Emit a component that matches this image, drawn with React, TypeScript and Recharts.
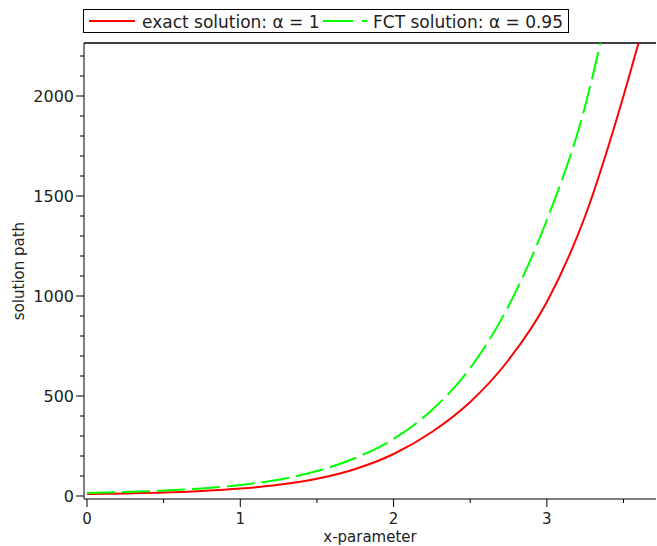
import React from 'react';
import { LineChart, Line, XAxis, YAxis, ReferenceLine, Label } from 'recharts';

// values
const exactX = [0, 0.25, 0.5, 0.75, 1, 1.25, 1.5, 1.75, 2, 2.25, 2.5, 2.75, 3, 3.25, 3.5, 3.6];
const exactY = [10, 13, 17, 25, 37, 56, 86, 135, 210, 320, 470, 680, 970, 1400, 2000, 2270];
const fctX = [0, 0.25, 0.5, 0.75, 1, 1.25, 1.5, 1.75, 2, 2.25, 2.5, 2.75, 3, 3.25, 3.35];
const fctY = [15, 20, 27, 38, 55, 81, 125, 190, 285, 430, 640, 950, 1380, 1950, 2265];

const xTicks = [0, 0.5, 1, 1.5, 2, 2.5, 3, 3.5];
const yTicks = Array.from({ length: 23 }, (_, i) => i * 100);

const exactData = exactX.map((x, i) => ({ x, y: exactY[i] }));
const fctData = fctX.map((x, i) => ({ x, y: fctY[i] }));

const FONT = '"DejaVu Sans", Verdana, sans-serif';

const YTick = (props: any) => {
  const { x, y, payload } = props;
  const major = payload.value % 500 === 0;
  return (
    <g>
      <line x1={x} x2={x - (major ? 8 : 4)} y1={y} y2={y} stroke="#000" />
      {major && (
        <text x={x - 10} y={y} dy={6} textAnchor="end" fontSize={16} fontFamily={FONT} fill="#222">
          {payload.value}
        </text>
      )}
    </g>
  );
};

const XTick = (props: any) => {
  const { x, y, payload } = props;
  const major = Number.isInteger(payload.value);
  return (
    <g>
      <line x1={x} x2={x} y1={y} y2={y + (major ? 8 : 4)} stroke="#000" />
      {major && (
        <text x={x} y={y + 25} textAnchor="middle" fontSize={15} fontFamily={FONT} fill="#222">
          {payload.value}
        </text>
      )}
    </g>
  );
};

const LegendBox = () => (
  <svg width={487} height={25} style={{ display: 'block' }}>
    <rect x={0.5} y={0.5} width={485} height={23} fill="#fff" stroke="#000" />
    <line x1={6} x2={52} y1={12} y2={12} stroke="#ff0000" strokeWidth={2} />
    <text x={59} y={19} fontSize={17} fontFamily={FONT} fill="#222">exact solution: α = 1</text>
    <line x1={240} x2={270} y1={12} y2={12} stroke="#00ff00" strokeWidth={2} />
    <line x1={279} x2={284} y1={12} y2={12} stroke="#00ff00" strokeWidth={2} />
    <text x={290} y={19} fontSize={17} fontFamily={FONT} fill="#222">FCT solution: α = 0.95</text>
  </svg>
);

export default function App() {
  return (
    <div style={{ position: 'absolute', left: 0, top: 0, width: 657, height: 546, background: '#fff' }}>
      <LineChart width={657} height={546} margin={{ top: 43, right: 1, left: 24, bottom: 17 }}>
        <XAxis
          type="number"
          dataKey="x"
          domain={[-0.0196, 3.712]}
          ticks={xTicks}
          interval={0}
          allowDataOverflow
          axisLine={{ stroke: '#000' }}
          tickLine={false}
          tickSize={0}
          tickMargin={0}
          tick={<XTick />}
          height={30}
        >
          <Label
            content={() => (
              <text x={370} y={542} textAnchor="middle" fontSize={15} fontFamily={FONT} fill="#222">
                x-parameter
              </text>
            )}
          />
        </XAxis>
        <YAxis
          type="number"
          domain={[-15, 2265]}
          ticks={yTicks}
          interval={0}
          allowDataOverflow
          axisLine={{ stroke: '#000' }}
          tickLine={false}
          tickSize={0}
          tickMargin={0}
          tick={<YTick />}
          width={60}
        >
          <Label
            content={() => (
              <text
                x={0}
                y={0}
                transform="translate(24,271) rotate(-90)"
                textAnchor="middle"
                fontSize={15}
                fontFamily={FONT}
                fill="#222"
              >
                solution path
              </text>
            )}
          />
        </YAxis>
        <ReferenceLine y={2265} stroke="#000" strokeWidth={1.5} />
        <Line
          data={exactData}
          dataKey="y"
          type="monotone"
          stroke="#ff0000"
          strokeWidth={2}
          dot={false}
          isAnimationActive={false}
        />
        <Line
          data={fctData}
          dataKey="y"
          type="monotone"
          stroke="#00ff00"
          strokeWidth={2}
          strokeDasharray="28 7"
          dot={false}
          isAnimationActive={false}
        />
      </LineChart>
      <div style={{ position: 'absolute', left: 83, top: 9 }}>
        <LegendBox />
      </div>
    </div>
  );
}
